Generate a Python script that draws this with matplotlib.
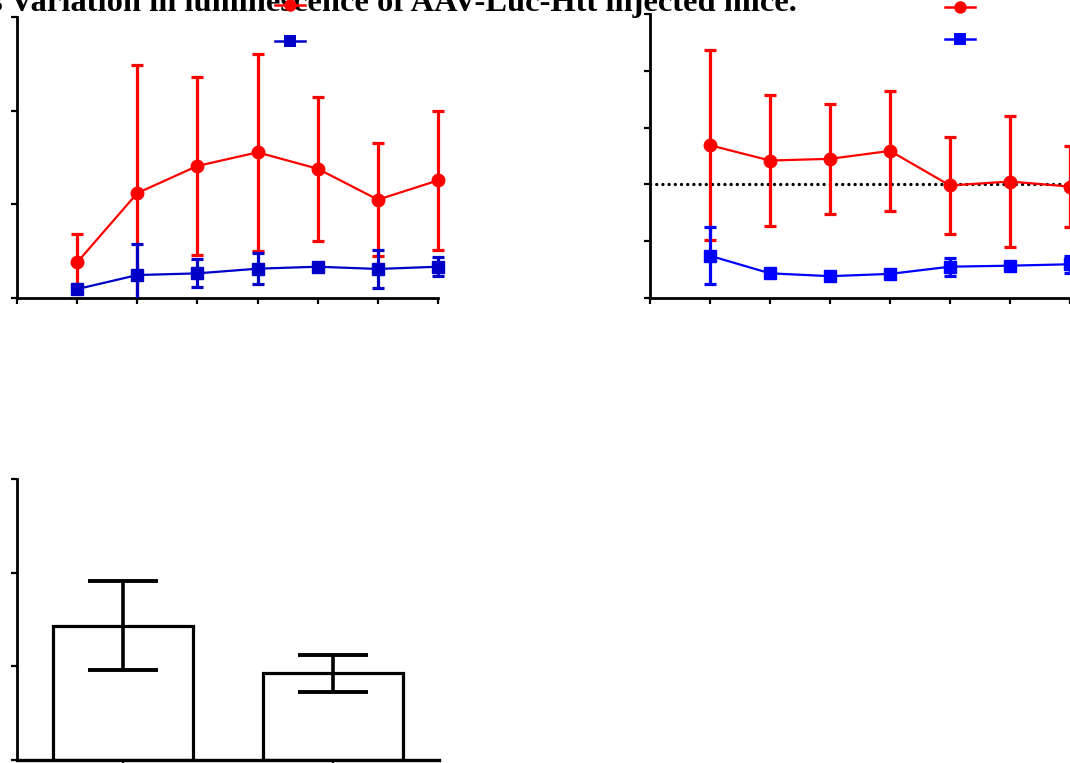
import matplotlib
matplotlib.use("Agg")
import matplotlib.pyplot as plt
from matplotlib.lines import Line2D
from matplotlib.transforms import Bbox, TransformedBbox
import numpy as np

# ------------------------------------------------------------
#  data (no axis labels survive the crop)
# ------------------------------------------------------------
weeks = [1, 2, 3, 4, 5, 6, 7]

# panel A: raw luminescence
a_red = [0.38, 1.12, 1.41, 1.555, 1.38, 1.05, 1.255]
a_red_err = [0.30, 1.37, 0.95, 1.05, 0.77, 0.60, 0.745]
a_blue = [0.095, 0.245, 0.263, 0.313, 0.334, 0.31, 0.334]
a_blue_err = [0.0, 0.33, 0.15, 0.165, 0.03, 0.20, 0.10]

# panel B: normalised luminescence, dotted reference at 2
b_red = [2.69, 2.42, 2.45, 2.59, 1.98, 2.05, 1.96]
b_red_err = [1.68, 1.15, 0.97, 1.06, 0.85, 1.16, 0.72]
b_blue = [0.74, 0.43, 0.38, 0.42, 0.547, 0.565, 0.59]
b_blue_err = [0.50, 0.05, 0.0, 0.03, 0.16, 0.03, 0.15]
b_ref = 2

# panel C: bar summary
bar_x = [0, 1]
bar_vals = [1.433, 0.925]
bar_err = [0.477, 0.195]

title = "s Variation in luminescence of AAV-Luc-Htt injected mice."

RED = "#ff0000"
BLUE_A = "#0000c8"
BLUE_B = "#0000ff"

W, H = 1070, 763
fig = plt.figure(figsize=(W / 100, H / 100), dpi=100)


def px_axes(x0, y0, x1, y1):
    # pixel box (top-left origin) -> figure fraction
    return fig.add_axes([x0 / W, 1 - y1 / H, (x1 - x0) / W, (y1 - y0) / H])


def style(ax, ylim, xticks, yticks, lw_bottom=2.0):
    for s in ["top", "right"]:
        ax.spines[s].set_visible(False)
    ax.spines["left"].set_linewidth(2.0)
    ax.spines["bottom"].set_linewidth(lw_bottom)
    ax.set_ylim(*ylim)
    ax.set_xticks(xticks)
    ax.set_yticks(yticks)
    ax.tick_params(axis="both", direction="out", length=4, width=1.6,
                   labelleft=False, labelbottom=False)


def series(ax, y, err, color, marker, ms):
    eb = ax.errorbar(weeks, y, yerr=err, color=color, marker=marker, ms=ms,
                     mec=color, lw=1.6, elinewidth=2.3, capsize=4,
                     capthick=2.3, zorder=3)
    # clip only at the x axis, let the last point spill past the right end
    box = TransformedBbox(Bbox([[-1, 0], [8, 100]]), ax.transData)
    for art in eb.get_children():
        art.set_clip_box(box)
        art.set_clip_path(None)


def handles_legend(ax, colors, anchor, spacing):
    hs = [Line2D([], [], color=colors[0], marker="o", ms=9, lw=1.8, mew=0),
          Line2D([], [], color=colors[1], marker="s", ms=8.5, lw=1.8, mew=0)]
    leg = ax.legend(hs, ["", ""], loc="center",
                    bbox_to_anchor=(anchor[0] / W, 1 - anchor[1] / H),
                    bbox_transform=fig.transFigure, frameon=False,
                    borderpad=0, handletextpad=0, handlelength=2.2,
                    fontsize=10, labelspacing=spacing)
    leg.set_zorder(5)


# title, partly cut off by the crop
fig.text(797 / W, 1 - 11 / H, title, ha="right", va="baseline",
         fontsize=23.4, fontweight="bold", family="Liberation Serif",
         zorder=-1)

# ---------------- panel A ----------------
ax1 = px_axes(17, 17, 438, 298)
series(ax1, a_red, a_red_err, RED, "o", 9)
series(ax1, a_blue, a_blue_err, BLUE_A, "s", 8.5)
ax1.set_xlim(0, 7)
style(ax1, (0, 3), range(0, 8), [0, 1, 2, 3])
handles_legend(ax1, (RED, BLUE_A), (290, 24), 1.6)

# ---------------- panel B ----------------
ax2 = px_axes(650, 14.3, 1070, 297.7)
ax2.axhline(b_ref, color="black", lw=2.4, ls=(0, (0.01, 1.85)),
            dash_capstyle="round", zorder=2)
series(ax2, b_red, b_red_err, RED, "o", 9)
series(ax2, b_blue, b_blue_err, BLUE_B, "s", 8.5)
ax2.set_xlim(0, 7)
style(ax2, (0, 5), range(0, 8), [0, 1, 2, 3, 4, 5])
handles_legend(ax2, (RED, BLUE_B), (960, 24), 1.3)

# ---------------- panel C ----------------
ax3 = px_axes(17, 479, 439, 760)
ax3.bar(bar_x, bar_vals, width=0.667, color="white", edgecolor="black",
        linewidth=2.3, zorder=2)
ax3.errorbar(bar_x, bar_vals, yerr=bar_err, fmt="none", ecolor="black",
             elinewidth=2.6, capsize=25, capthick=2.8, zorder=3)
ax3.set_xlim(-0.505, 1.505)
style(ax3, (0, 3), bar_x, [0, 1, 2, 3], lw_bottom=2.4)

fig.savefig("out.png", dpi=100)
